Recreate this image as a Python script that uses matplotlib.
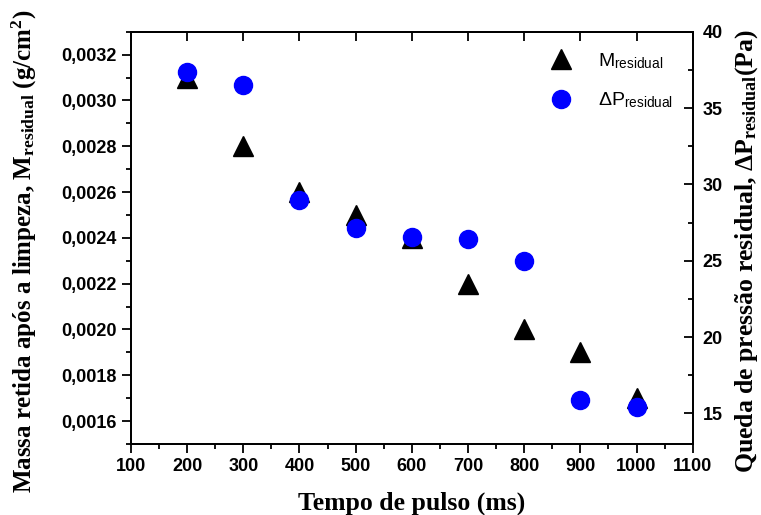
import matplotlib
matplotlib.use("Agg")
import matplotlib.pyplot as plt
from matplotlib.ticker import MultipleLocator, FuncFormatter

plt.rcParams['font.family'] = ['Liberation Sans', 'DejaVu Sans']
plt.rcParams['mathtext.fontset'] = 'custom'
plt.rcParams['mathtext.rm'] = 'Liberation Serif:bold'
plt.rcParams['mathtext.bf'] = 'Liberation Serif:bold'
plt.rcParams['mathtext.sf'] = 'Liberation Sans'
plt.rcParams['mathtext.default'] = 'rm'

# tempo de pulso (ms)
tempo = [200, 300, 400, 500, 600, 700, 800, 900, 1000]
# massa residual (g/cm2)
massa = [0.0031, 0.0028, 0.0026, 0.0025, 0.0024, 0.0022, 0.0020, 0.0019, 0.0017]
# queda de pressao residual (Pa)
pressao = [37.35, 36.5, 29.0, 27.15, 26.55, 26.4, 25.0, 15.9, 15.45]

fig = plt.figure(figsize=(7.61, 5.15), dpi=100)
ax = fig.add_axes([0.1721, 0.1379, 0.7382, 0.8005])
ax2 = ax.twinx()

h1, = ax.plot(tempo, massa, linestyle='none', marker='^', markersize=14,
              color='black', label=r'M$_{\mathsf{residual}}$')
h2, = ax2.plot(tempo, pressao, linestyle='none', marker='o', markersize=13,
               color='#0000ff', label=r'$\mathsf{\Delta}$P$_{\mathsf{residual}}$')

ax.set_xlim(100, 1100)
ax.set_ylim(0.0015, 0.0033)
ax2.set_ylim(13, 40)

ax.xaxis.set_major_locator(MultipleLocator(100))
ax.xaxis.set_minor_locator(MultipleLocator(50))
ax.yaxis.set_major_locator(MultipleLocator(0.0002))
ax.yaxis.set_minor_locator(MultipleLocator(0.0001))
ax2.yaxis.set_major_locator(MultipleLocator(5))
ax2.yaxis.set_minor_locator(MultipleLocator(2.5))

ax.yaxis.set_major_formatter(FuncFormatter(lambda v, p: f"{v:.4f}".replace('.', ',')))

for a in (ax, ax2):
    for s in a.spines.values():
        s.set_linewidth(1.3)

ax.tick_params(axis='x', which='major', direction='out', length=6.5, width=1.3,
               top=False, labelsize=13)
ax.tick_params(axis='x', which='minor', direction='out', length=3.5, width=1.3, top=False)
ax.tick_params(axis='y', which='major', direction='out', length=6.5, width=1.3,
               right=False, labelsize=13)
ax.tick_params(axis='y', which='minor', direction='out', length=3.5, width=1.3, right=False)
ax2.tick_params(axis='y', which='major', direction='in', length=6.5, width=1.3,
                labelsize=13, pad=7)
ax2.tick_params(axis='y', which='minor', direction='in', length=3.5, width=1.3)

# ticks internos no topo, so nos valores principais
top = ax.secondary_xaxis('top')
top.xaxis.set_major_locator(MultipleLocator(100))
top.tick_params(direction='in', length=6.5, width=1.3, labeltop=False)
top.spines['top'].set_linewidth(1.3)

for lab in ax.get_xticklabels() + ax.get_yticklabels() + ax2.get_yticklabels():
    lab.set_fontweight('bold')

serif = {'family': 'Liberation Serif', 'weight': 'bold'}
ax.set_xlabel('Tempo de pulso (ms)', fontdict=serif, fontsize=18.5, labelpad=12)
ax.set_ylabel(r'Massa retida após a limpeza, M$_{residual}$ (g/cm$^{2}$)',
              fontdict=serif, fontsize=18)
ax2.set_ylabel(r'Queda de pressão residual, $\Delta$P$_{residual}$(Pa)',
               fontdict=serif, fontsize=18.5)
ax.yaxis.set_label_coords(-0.163, 0.468)
ax2.yaxis.set_label_coords(1.072, 0.468)

ax2.legend(handles=[h1, h2], loc='upper right', bbox_to_anchor=(1.0, 1.0),
           frameon=False, fontsize=14, labelspacing=1.0, handletextpad=0.9,
           borderaxespad=0.6)

fig.savefig('out.png', dpi=100)
